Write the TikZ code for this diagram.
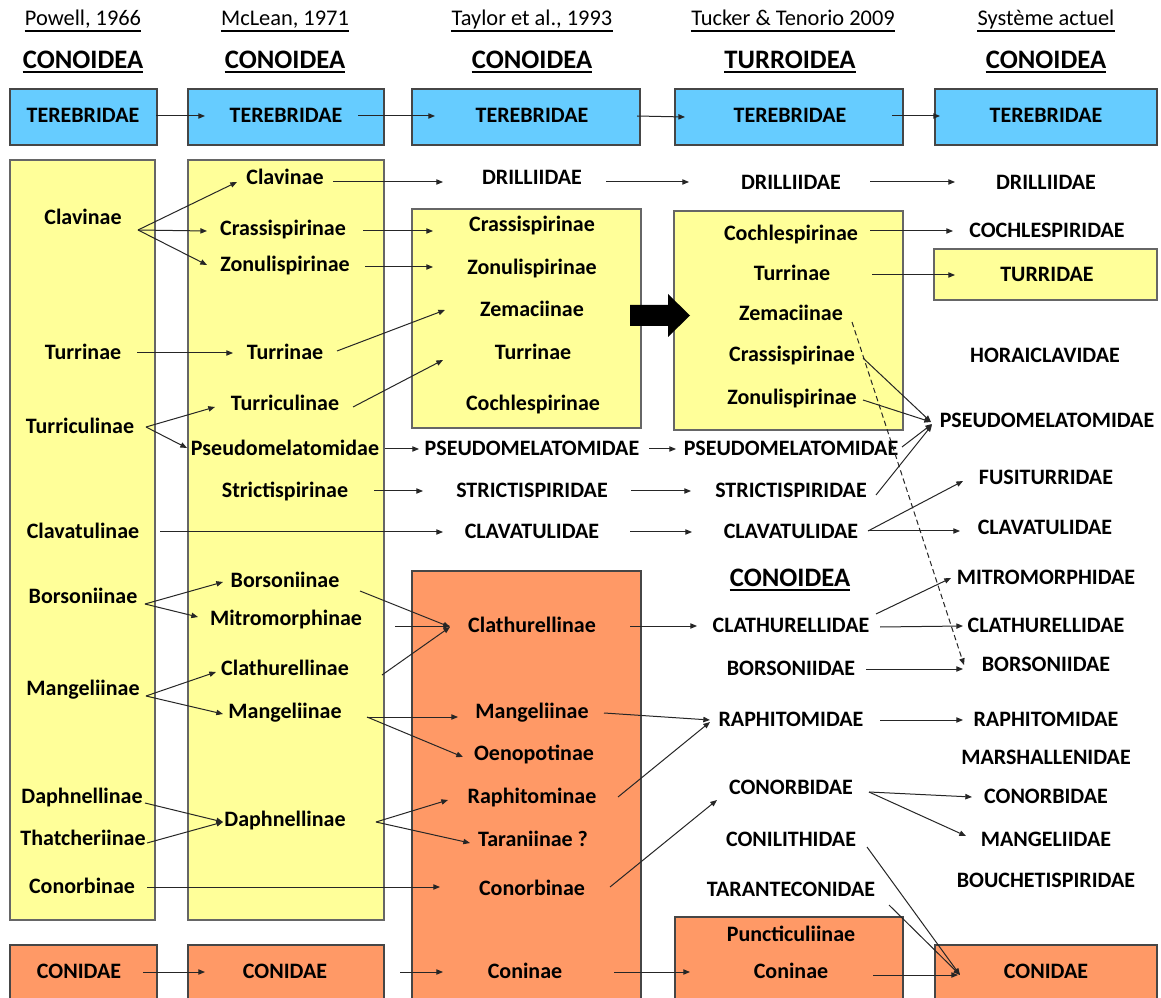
\documentclass[tikz,border=0pt]{standalone}
\usepackage{fontspec}
\setmainfont{Carlito}
\usetikzlibrary{arrows.meta}
\definecolor{cblue}{RGB}{102,204,255}
\definecolor{cyel}{RGB}{255,255,153}
\definecolor{corg}{RGB}{255,153,102}
\definecolor{cedge}{RGB}{70,70,70}
\newcommand\cn[5][]{\draw[arr,#1] ([shift={(#3)}]#2.center) -- ([shift={(#5)}]#4.center);}
\begin{document}
\begin{tikzpicture}[x=0.75pt,y=-0.75pt,
  t/.style={inner sep=0pt,text height=12pt,text depth=2pt,font=\fontsize{16.5}{18}\selectfont\bfseries},
  hd/.style={inner sep=0pt,text height=12pt,text depth=3pt,font=\fontsize{16.8}{19}\selectfont},
  supfam/.style={inner sep=0pt,text height=14pt,text depth=3pt,font=\fontsize{20}{24}\selectfont\bfseries},
  arr/.style={draw=black!85,line width=0.75pt,-{Triangle[length=5pt,width=4pt]}},
  ulh/.style={line width=1.1pt},
  uls/.style={line width=1.6pt},
  bbox/.style={fill=cblue,draw=cedge,line width=0.8pt},
  ybox/.style={fill=cyel,draw=black!60,line width=0.8pt},
  obox/.style={fill=corg,draw=cedge,line width=0.8pt}]
\useasboundingbox (0,0) rectangle (1161,998);
\fill[white] (0,0) rectangle (1161,998);

% ---- boxes ----
\path[bbox] (10,89) rectangle (157,145);
\path[bbox] (188,89) rectangle (384,145);
\path[bbox] (412,89) rectangle (640,145);
\path[bbox] (675,89) rectangle (903,145);
\path[bbox] (935,89) rectangle (1157,145);
\path[ybox] (10,160) rectangle (155,920);
\path[ybox] (188,160) rectangle (384,920);
\path[ybox] (412,209) rectangle (641,428);
\path[ybox] (674,211) rectangle (903,430);
\path[ybox] (934,249) rectangle (1157,300);
\path[obox] (412,571) rectangle (641,1005);
\path[obox] (10,945) rectangle (157,1005);
\path[obox] (188,945) rectangle (384,1005);
\path[obox] (675,917) rectangle (903,1005);
\path[obox] (935,945) rectangle (1157,1005);

% big arrow
\fill[black] (630,305) -- (668,305) -- (668,294) -- (690,315.5) -- (668,337) -- (668,326) -- (630,326) -- cycle;

% ---- headers ----
\node[hd] (h1) at (83,20) {Powell, 1966};
\node[hd] (h2) at (285,20) {McLean, 1971};
\node[hd] (h3) at (532,20) {Taylor et al., 1993};
\node[hd] (h4) at (793,20) {Tucker \& Tenorio 2009};
\node[hd] (h5) at (1046,20) {Système actuel};
\foreach \n in {h1,h2,h3,h4,h5}
  \draw[ulh] ([shift={(0,11)}]\n.west) -- ([shift={(0,11)}]\n.east);

\node[supfam] (c1) at (83,61) {CONOIDEA};
\node[supfam] (c2) at (285,61) {CONOIDEA};
\node[supfam] (c3) at (532,61) {CONOIDEA};
\node[supfam] (c4) at (790,61) {TURROIDEA};
\node[supfam] (c5) at (1046,61) {CONOIDEA};
\node[supfam] (kConoid) at (790,579) {CONOIDEA};
\foreach \n in {c1,c2,c3,c4,c5,kConoid}
  \draw[uls] ([shift={(0,11)}]\n.west) -- ([shift={(0,11)}]\n.east);

% ---- TEREBRIDAE ----
\node[t] (t1) at (83,116) {TEREBRIDAE};
\node[t] (t2) at (286,116) {TEREBRIDAE};
\node[t] (t3) at (532,116) {TEREBRIDAE};
\node[t] (t4) at (790,116) {TEREBRIDAE};
\node[t] (t5) at (1046,116) {TEREBRIDAE};

% ---- Powell ----
\node[t] (pClav) at (83,218) {Clavinae};
\node[t] (pTurr) at (83,353) {Turrinae};
\node[t] (pTuc) at (80,427) {Turriculinae};
\node[t] (pClat) at (83,532) {Clavatulinae};
\node[t] (pBors) at (83,597) {Borsoniinae};
\node[t] (pMang) at (83,689) {Mangeliinae};
\node[t] (pDaph) at (82,797) {Daphnellinae};
\node[t] (pThat) at (83,839) {Thatcheriinae};
\node[t] (pConorb) at (82,887) {Conorbinae};
\node[t] (pConid) at (79,972) {CONIDAE};

% ---- McLean ----
\node[t] (mClav) at (285,178) {Clavinae};
\node[t] (mCrass) at (283,229) {Crassispirinae};
\node[t] (mZon) at (285,265) {Zonulispirinae};
\node[t] (mTurr) at (285,353) {Turrinae};
\node[t] (mTuc) at (285,404) {Turriculinae};
\node[t] (mPseudo) at (285,449) {Pseudomelatomidae};
\node[t] (mStrict) at (285,491) {Strictispirinae};
\node[t] (mBors) at (285,581) {Borsoniinae};
\node[t] (mMitro) at (286,619) {Mitromorphinae};
\node[t] (mClath) at (285,669) {Clathurellinae};
\node[t] (mMang) at (285,712) {Mangeliinae};
\node[t] (mDaph) at (285,820) {Daphnellinae};
\node[t] (mConid) at (285,972) {CONIDAE};

% ---- Taylor ----
\node[t] (aDrill) at (532,178) {DRILLIIDAE};
\node[t] (aCrass) at (532,225) {Crassispirinae};
\node[t] (aZon) at (532,268) {Zonulispirinae};
\node[t] (aZem) at (532,310) {Zemaciinae};
\node[t] (aTurr) at (533,353) {Turrinae};
\node[t] (aCoch) at (533,404) {Cochlespirinae};
\node[t] (aPseudo) at (532,449) {PSEUDOMELATOMIDAE};
\node[t] (aStrict) at (532,491) {STRICTISPIRIDAE};
\node[t] (aClav) at (532,532) {CLAVATULIDAE};
\node[t] (aClath) at (532,626) {Clathurellinae};
\node[t] (aMang) at (532,712) {Mangeliinae};
\node[t] (aOeno) at (534,754) {Oenopotinae};
\node[t] (aRaph) at (532,797) {Raphitominae};
\node[t] (aTaran) at (533,840) {Taraniinae ?};
\node[t] (aConorb) at (532,889) {Conorbinae};
\node[t] (aConin) at (525,972) {Coninae};

% ---- Tucker ----
\node[t] (kDrill) at (791,183) {DRILLIIDAE};
\node[t] (kCoch) at (791,234) {Cochlespirinae};
\node[t] (kTurr) at (792,274) {Turrinae};
\node[t] (kZem) at (791,314) {Zemaciinae};
\node[t] (kCrass) at (792,355) {Crassispirinae};
\node[t] (kZon) at (792,398) {Zonulispirinae};
\node[t] (kPseudo) at (791,449) {PSEUDOMELATOMIDAE};
\node[t] (kStrict) at (791,491) {STRICTISPIRIDAE};
\node[t] (kClav) at (791,532) {CLAVATULIDAE};
\node[t] (kClath) at (791,626) {CLATHURELLIDAE};
\node[t] (kBors) at (791,669) {BORSONIIDAE};
\node[t] (kRaph) at (791,720) {RAPHITOMIDAE};
\node[t] (kConorb) at (791,788) {CONORBIDAE};
\node[t] (kConil) at (791,840) {CONILITHIDAE};
\node[t] (kTaranteco) at (791,890) {TARANTECONIDAE};
\node[t] (kPunct) at (791,935) {Puncticuliinae};
\node[t] (kConin) at (791,972) {Coninae};

% ---- Actuel ----
\node[t] (sDrill) at (1046,183) {DRILLIIDAE};
\node[t] (sCoch) at (1047,231) {COCHLESPIRIDAE};
\node[t] (sTurr) at (1047,275) {TURRIDAE};
\node[t] (sHora) at (1045,356) {HORAICLAVIDAE};
\node[t] (sPseudo) at (1047,421) {PSEUDOMELATOMIDAE};
\node[t] (sFusi) at (1046,478) {FUSITURRIDAE};
\node[t] (sClav) at (1045,528) {CLAVATULIDAE};
\node[t] (sMitro) at (1046,578) {MITROMORPHIDAE};
\node[t] (sClath) at (1046,626) {CLATHURELLIDAE};
\node[t] (sBors) at (1046,665) {BORSONIIDAE};
\node[t] (sRaph) at (1046,720) {RAPHITOMIDAE};
\node[t] (sMarsh) at (1046,758) {MARSHALLENIDAE};
\node[t] (sConorb) at (1046,797) {CONORBIDAE};
\node[t] (sMang) at (1046,840) {MANGELIIDAE};
\node[t] (sBouch) at (1046,881) {BOUCHETISPIRIDAE};
\node[t] (sConid) at (1046,972) {CONIDAE};

% ---- connectors: TEREBRIDAE ----
\cn{t1}{73,0}{t2}{-81,0}
\cn{t2}{72,0}{t3}{-97,0}
\cn{t3}{105,0}{t4}{-105,1}
\cn{t4}{102,0}{t5}{-106,0}

% ---- Powell -> McLean ----
\cn{pClav}{55,12}{mClav}{-48,4}
\cn{pClav}{55,12}{mCrass}{-76,2}
\cn{pClav}{55,12}{mZon}{-78,0}
\cn{pTurr}{54,0}{mTurr}{-52,0}
\cn{pTuc}{66,0}{mTuc}{-70,3}
\cn{pTuc}{66,0}{mPseudo}{-98,-1}
\cn{pClat}{77,0}{aClav}{-89,0}
\cn{pBors}{62,7}{mBors}{-62,1}
\cn{pBors}{62,7}{mMitro}{-88,-2}
\cn{pMang}{63,7}{mClath}{-69,3}
\cn{pMang}{63,7}{mMang}{-62,2}
\cn{pDaph}{63,6}{mDaph}{-62,2}
\cn{pThat}{64,4}{mDaph}{-62,2}
\cn{pConorb}{65,0}{aConorb}{-92,-2}
\cn{pConid}{64,0}{mConid}{-80,0}

% ---- McLean -> Taylor ----
\cn{mClav}{48,4}{aDrill}{-89,4}
\cn{mCrass}{80,2}{aCrass}{-99,6}
\cn{mZon}{80,2}{aZon}{-99,-1}
\cn{mTurr}{52,-2}{aZem}{-87,0}
\cn{mTuc}{68,3}{aTurr}{-90,7}
\cn{mPseudo}{100,0}{aPseudo}{-113,0}
\cn{mStrict}{89,0}{aStrict}{-109,0}
\cn{mBors}{75,10}{aClath}{-82,1}
\cn{mMitro}{109,7}{aClath}{-82,0}
\cn{mClath}{97,6}{aClath}{-82,1}
\cn{mMang}{82,5}{aMang}{-74,5}
\cn{mMang}{82,5}{aOeno}{-71,3}
\cn{mDaph}{91,2}{aRaph}{-84,3}
\cn{mDaph}{91,2}{aTaran}{-63,3}
\cn{mConid}{115,0}{aConin}{-82,0}

% ---- Taylor -> Tucker ----
\cn{aDrill}{74,4}{kDrill}{-102,-1}
\cn{aPseudo}{117,0}{kPseudo}{-115,0}
\cn{aStrict}{99,0}{kStrict}{-100,0}
\cn{aClav}{98,0}{kClav}{-99,0}
\cn{aClath}{98,0}{kClath}{-94,0}
\cn{aMang}{72,1}{kRaph}{-81,0}
\cn{aRaph}{86,0}{kRaph}{-81,2}
\cn{aConorb}{78,-2}{kConorb}{-74,12}
\cn{aConin}{89,0}{kConin}{-101,0}

% ---- Tucker -> Actuel ----
\cn{kDrill}{79,-1}{sDrill}{-91,-1}
\cn{kCoch}{79,-3}{sCoch}{-94,0}
\cn{kTurr}{80,1}{sTurr}{-92,0}
\cn{kCrass}{71,3}{sPseudo}{-116,1}
\cn{kZon}{71,2}{sPseudo}{-116,1}
\cn{kPseudo}{111,-2}{sPseudo}{-115,3}
\cn{kStrict}{85,4}{sPseudo}{-115,4}
\cn[dash pattern=on 4pt off 2.5pt]{kZem}{61,8}{sBors}{-82,0}
\cn{kClav}{77,-1}{sFusi}{-83,3}
\cn{kClav}{77,-1}{sClav}{-85,3}
\cn{kClath}{85,-12}{sMitro}{-95,0}
\cn{kClath}{89,1}{sClath}{-83,0}
\cn{kBors}{75,0}{sBors}{-83,4}
\cn{kRaph}{89,0}{sRaph}{-83,0}
\cn{kConorb}{78,4}{sConorb}{-74,0}
\cn{kConorb}{78,4}{sMang}{-80,-4}
\cn{kConil}{76,7}{sConid}{-86,3}
\cn{kTaranteco}{98,15}{sConid}{-86,3}
\cn{kConin}{82,3}{sConid}{-88,3}
\end{tikzpicture}
\end{document}
